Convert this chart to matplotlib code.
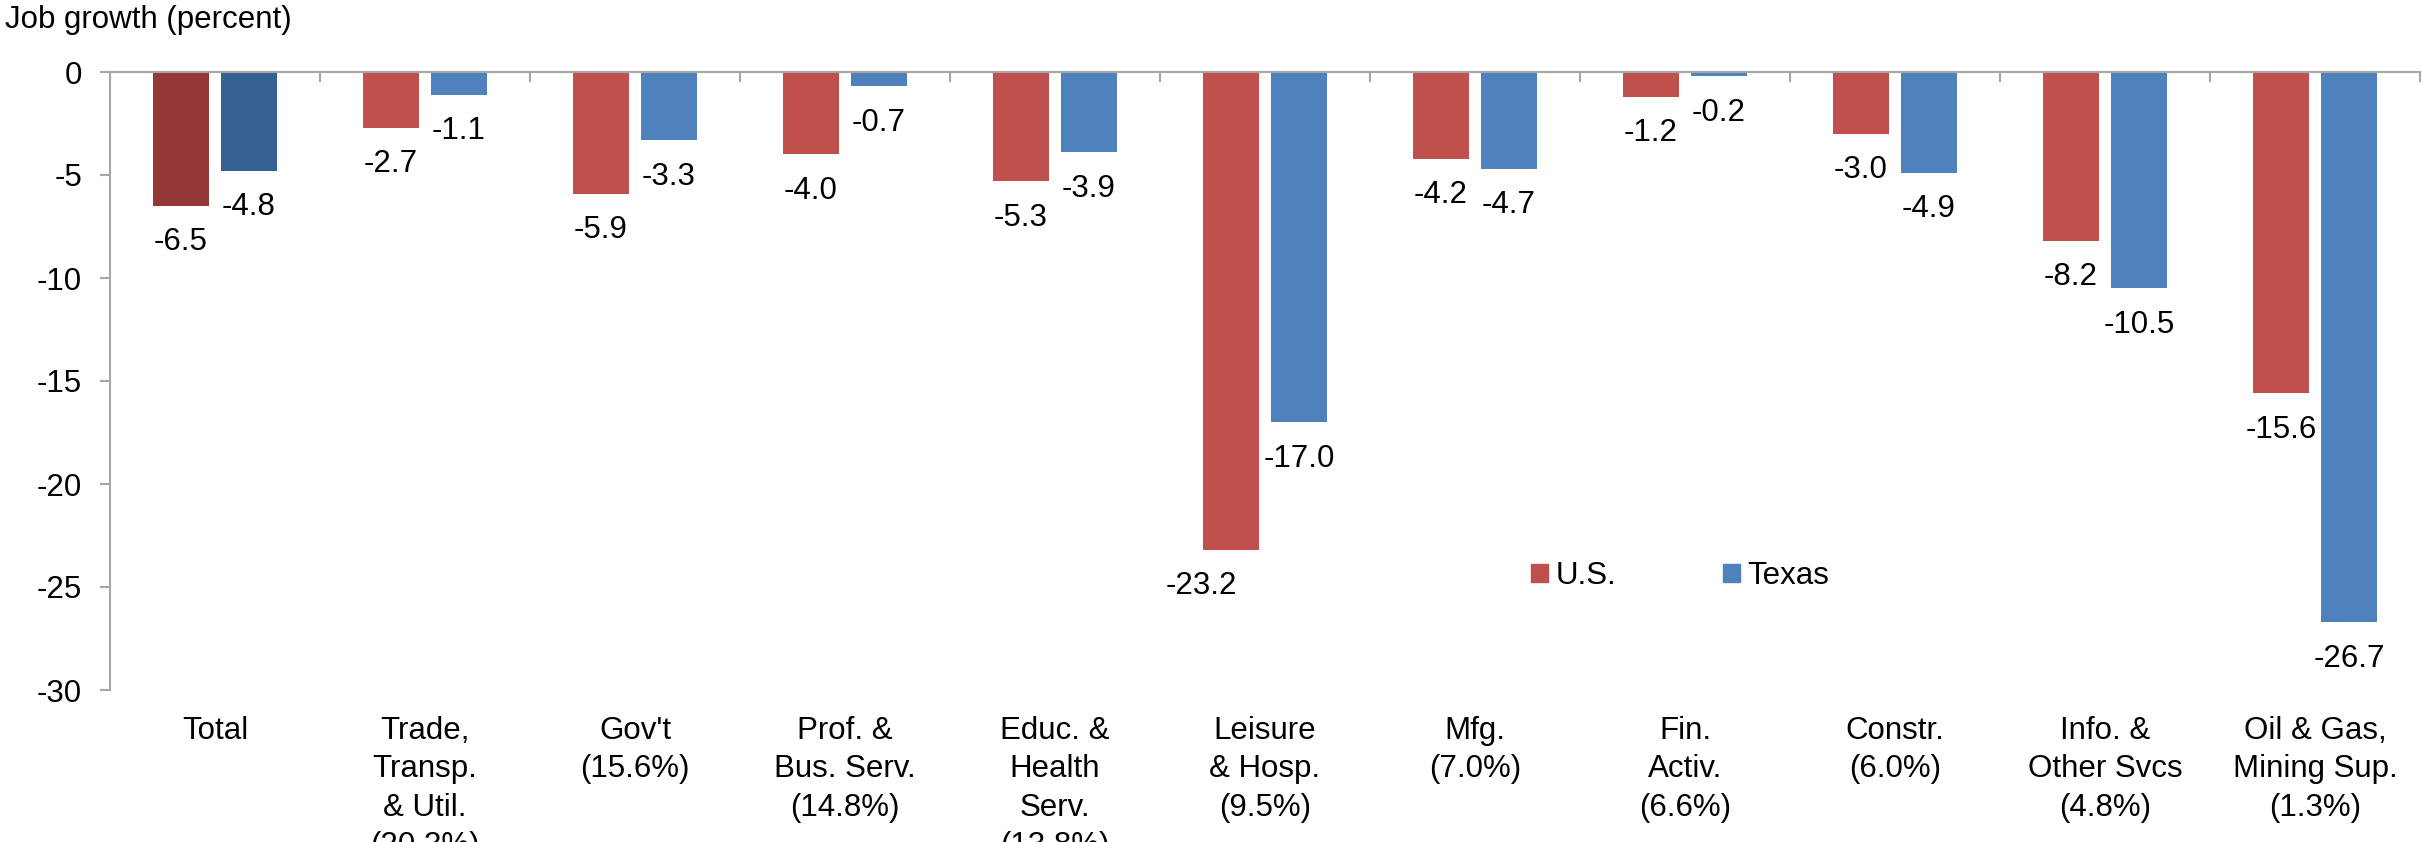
import numpy as np
import matplotlib
matplotlib.use("Agg")
from matplotlib import pyplot as plt
from matplotlib.patches import Patch

plt.rcParams['font.family'] = ['Liberation Sans', 'DejaVu Sans']

categories = ["Total",
              "Trade,\nTransp.\n& Util.\n(20.3%)",
              "Gov't\n(15.6%)",
              "Prof. &\nBus. Serv.\n(14.8%)",
              "Educ. &\nHealth\nServ.\n(13.8%)",
              "Leisure\n& Hosp.\n(9.5%)",
              "Mfg.\n(7.0%)",
              "Fin.\nActiv.\n(6.6%)",
              "Constr.\n(6.0%)",
              "Info. &\nOther Svcs\n(4.8%)",
              "Oil & Gas,\nMining Sup.\n(1.3%)"]
us = [-6.5, -2.7, -5.9, -4.0, -5.3, -23.2, -4.2, -1.2, -3.0, -8.2, -15.6]
texas = [-4.8, -1.1, -3.3, -0.7, -3.9, -17.0, -4.7, -0.2, -4.9, -10.5, -26.7]

US_COL, TX_COL = "#C0504D", "#4F81BD"
US_DARK, TX_DARK = "#953735", "#376092"
GRID = "#A6A6A6"

fig = plt.figure(figsize=(24.23, 8.42), dpi=100)
ax = fig.add_axes([110/2423, 1-690/842, 2310/2423, 618/842])

x = np.arange(len(categories))
w = 0.271
off = 0.162
us_cols = [US_DARK] + [US_COL]*(len(us)-1)
tx_cols = [TX_DARK] + [TX_COL]*(len(texas)-1)
b1 = ax.bar(x - off, us, w, color=us_cols, linewidth=0)
b2 = ax.bar(x + off, texas, w, color=tx_cols, linewidth=0)

# value labels under each bar end; the tall leisure bar's label is nudged left
nudge_us = {5: -21}
for i, v in enumerate(us):
    ax.annotate(f"{v:.1f}", (x[i] - off, v), xytext=(nudge_us.get(i, 0), -15.5),
                textcoords="offset points", ha="center", va="top", fontsize=22.5)
for i, v in enumerate(texas):
    ax.annotate(f"{v:.1f}", (x[i] + off, v), xytext=(0, -15.5),
                textcoords="offset points", ha="center", va="top", fontsize=22.5)

ax.set_xlim(-0.5, len(categories) - 0.5)
ax.set_ylim(-30, 0)
ax.set_yticks(np.arange(-30, 1, 5))
ax.set_yticklabels([str(t) for t in range(-30, 1, 5)])

ax.set_xticks(x)
ax.set_xticklabels(categories, fontsize=22.5, linespacing=1.37, va="top")
ax.set_xticks(np.arange(-0.5, len(categories), 1.0), minor=True)
ax.tick_params(axis="x", which="major", bottom=False, top=False, pad=15)
ax.tick_params(axis="x", which="minor", bottom=False, top=True, direction="in",
               length=7, width=1.5, color=GRID)
ax.tick_params(axis="y", which="major", left=True, direction="out", length=7,
               width=1.5, color=GRID, labelsize=22.5, pad=13)

for s in ["right", "bottom"]:
    ax.spines[s].set_visible(False)
for s in ["top", "left"]:
    ax.spines[s].set_color(GRID)
    ax.spines[s].set_linewidth(1.5)

fig.text(5/2423, 1-28/842, "Job growth (percent)", fontsize=22.5, va="baseline")

handles = [Patch(color=US_COL, label="U.S."), Patch(color=TX_COL, label="Texas")]
fig.legend(handles=handles, loc="center", bbox_to_anchor=(1680/2423, 1-576/842),
           ncol=2, frameon=False, fontsize=22.5, handlelength=0.55, handleheight=0.55,
           handletextpad=0.25, columnspacing=3.4)

fig.savefig("out.png", dpi=100)
